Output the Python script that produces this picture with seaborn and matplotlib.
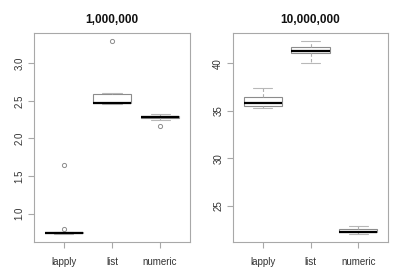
import matplotlib
matplotlib.use("Agg")
import matplotlib.pyplot as plt
import pandas as pd
import seaborn as sns

# timings (seconds), 10 runs per method
methods = ["lapply", "list", "numeric"]
small_lapply = [0.725, 0.735, 0.74, 0.745, 0.745, 0.75, 0.75, 0.755, 0.79, 1.65]
small_list = [2.46, 2.46, 2.465, 2.47, 2.47, 2.47, 2.59, 2.60, 2.60, 3.30]
small_numeric = [2.17, 2.25, 2.265, 2.275, 2.28, 2.285, 2.29, 2.30, 2.31, 2.33]
big_lapply = [35.3, 35.45, 35.5, 35.7, 35.8, 35.9, 36.2, 36.5, 36.6, 37.4]
big_list = [40.0, 40.9, 41.05, 41.1, 41.25, 41.35, 41.6, 41.85, 41.9, 42.4]
big_numeric = [22.0, 22.15, 22.2, 22.2, 22.2, 22.25, 22.4, 22.6, 22.65, 22.9]
titles = ["1,000,000", "10,000,000"]
yticks_small = [1.0, 1.5, 2.0, 2.5, 3.0]
yticks_big = [25, 30, 35, 40]


def make_frame(a, b, c):
    return pd.DataFrame({
        "method": ["lapply"] * len(a) + ["list"] * len(b) + ["numeric"] * len(c),
        "time": a + b + c,
    })


frames = [
    make_frame(small_lapply, small_list, small_numeric),
    make_frame(big_lapply, big_list, big_numeric),
]
ytick_sets = [yticks_small, yticks_big]

sns.set_style("white")
plt.rcParams["font.family"] = ["Liberation Sans", "DejaVu Sans"]
fig = plt.figure(figsize=(4.0, 2.77), dpi=100)
rects = [[0.085, 0.1264, 0.39, 0.7545], [0.5825, 0.1264, 0.3875, 0.7545]]

frame_col = "#a8a8a8"
for df, title, yt, rect in zip(frames, titles, ytick_sets, rects):
    ax = fig.add_axes(rect)
    sns.boxplot(
        data=df, x="method", y="time", order=methods, ax=ax,
        width=0.8, color="white", linecolor="#8c8c8c", linewidth=0.8,
        whis=1.5,
        whiskerprops={"linestyle": (0, (3, 2)), "color": "#b0b0b0", "linewidth": 0.8},
        capprops={"color": "#b8b8b8", "linewidth": 0.8},
        medianprops={"color": "black", "linewidth": 1.6},
        flierprops={"marker": "o", "markersize": 3.0, "markerfacecolor": "none",
                    "markeredgecolor": "#8c8c8c", "markeredgewidth": 0.7},
    )
    # R-style 4% padding
    ymin = df["time"].min()
    ymax = df["time"].max()
    pad = (ymax - ymin) * 0.04
    ax.set_ylim(ymin - pad, ymax + pad)
    ax.set_xlim(-0.62, 2.62)
    ax.set_yticks(yt)
    ax.set_yticklabels([f"{v:g}" if isinstance(v, int) else f"{v:.1f}" for v in yt],
                       rotation=90, va="center")
    ax.set_xlabel("")
    ax.set_ylabel("")
    ax.set_title(title, fontsize=8.5, fontweight="bold", pad=7, color="#111111")
    ax.tick_params(axis="both", which="both", direction="out", length=4,
                   width=0.8, color=frame_col, labelsize=7, labelcolor="#333333",
                   left=True, bottom=True, pad=3)
    ax.tick_params(axis="x", pad=7)
    for s in ax.spines.values():
        s.set_color(frame_col)
        s.set_linewidth(0.8)

fig.savefig("out.png", dpi=100)
